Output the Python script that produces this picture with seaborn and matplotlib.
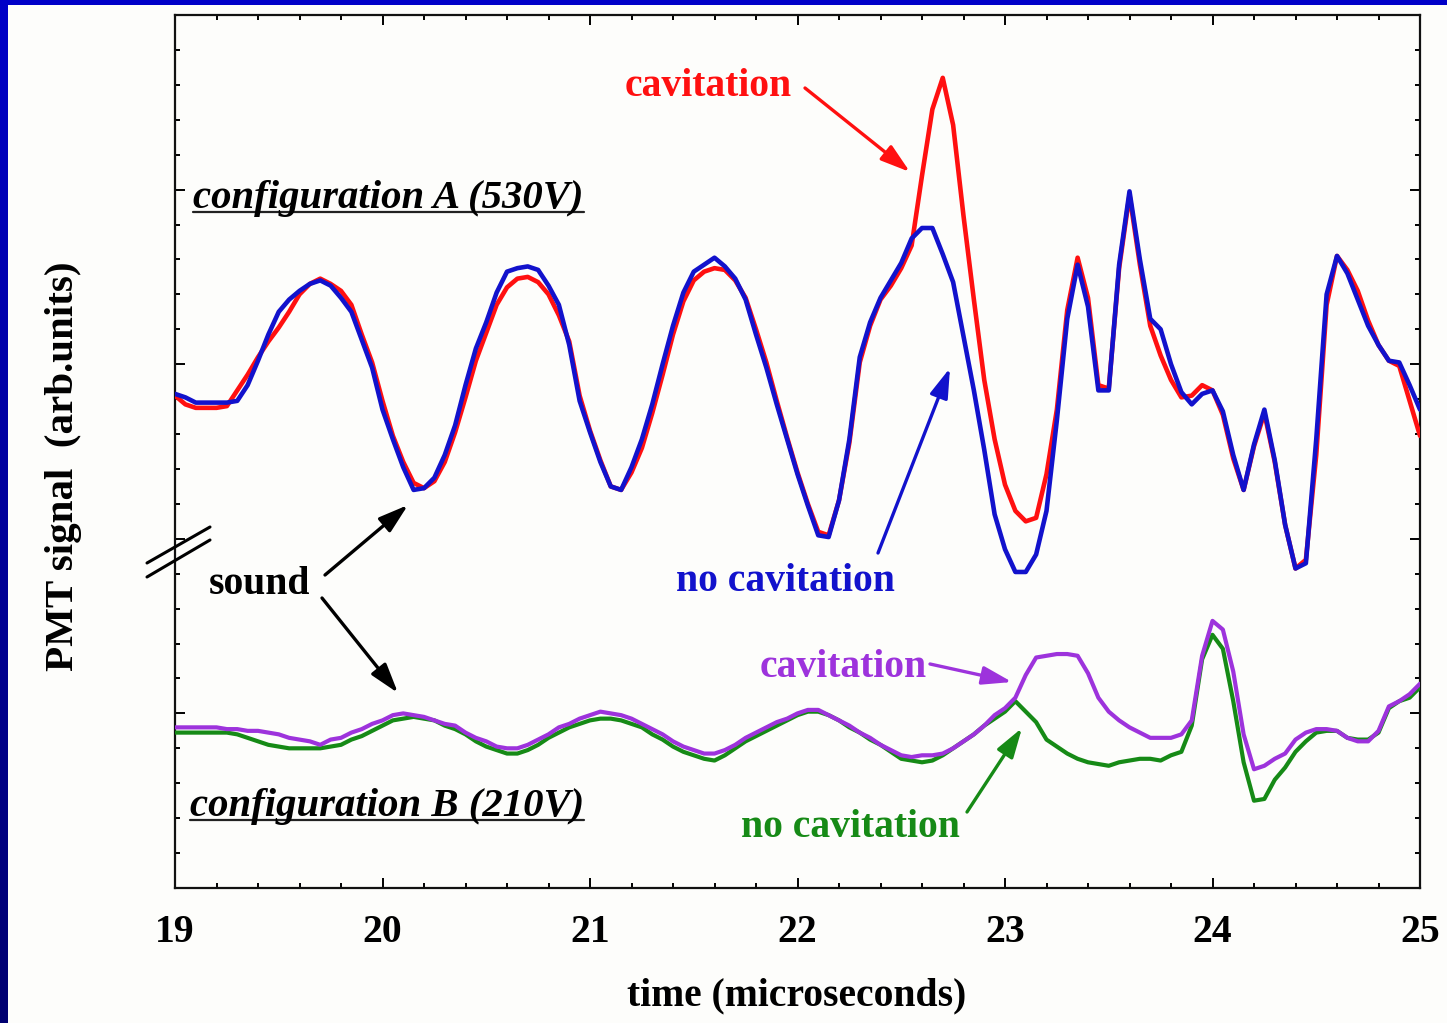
import numpy as np
import pandas as pd
import matplotlib
matplotlib.use("Agg")
import matplotlib.pyplot as plt
from matplotlib.ticker import MultipleLocator, NullFormatter
from matplotlib.lines import Line2D
from matplotlib.patches import Rectangle
from matplotlib.colors import LinearSegmentedColormap
import seaborn as sns

# ---------------------------------------------------------------- data
# PMT sample instants in microseconds (50 ns spacing)
time_us = np.round(np.linspace(19.0, 25.0, 121), 2)

# configuration A (530 V) -- arbitrary units
a_cavitation = [
    2.82, 2.77, 2.75, 2.75, 2.75, 2.76, 2.85, 2.94, 3.04, 3.13,
    3.21, 3.30, 3.40, 3.46, 3.49, 3.46, 3.42, 3.34, 3.17, 3.01,
    2.79, 2.59, 2.44, 2.32, 2.29, 2.33, 2.44, 2.61, 2.81, 3.02,
    3.18, 3.34, 3.44, 3.49, 3.50, 3.47, 3.40, 3.28, 3.13, 2.82,
    2.62, 2.45, 2.30, 2.28, 2.38, 2.52, 2.72, 2.94, 3.17, 3.36,
    3.48, 3.53, 3.55, 3.54, 3.48, 3.38, 3.20, 3.01, 2.79, 2.58,
    2.38, 2.20, 2.04, 2.02, 2.22, 2.55, 3.01, 3.22, 3.37, 3.45,
    3.55, 3.68, 4.08, 4.46, 4.64, 4.37, 3.85, 3.37, 2.91, 2.57,
    2.31, 2.16, 2.10, 2.12, 2.37, 2.74, 3.31, 3.61, 3.38, 2.88,
    2.86, 3.55, 3.97, 3.57, 3.22, 3.05, 2.91, 2.81, 2.82, 2.88,
    2.85, 2.71, 2.46, 2.28, 2.53, 2.72, 2.44, 2.08, 1.83, 1.88,
    2.48, 3.34, 3.62, 3.54, 3.42, 3.25, 3.11, 3.02, 2.99, 2.79,
    2.59,
]
a_no_cavitation = [
    2.83, 2.81, 2.78, 2.78, 2.78, 2.78, 2.79, 2.88, 3.02, 3.17,
    3.30, 3.37, 3.42, 3.46, 3.48, 3.45, 3.38, 3.30, 3.14, 2.98,
    2.74, 2.57, 2.41, 2.28, 2.29, 2.35, 2.48, 2.65, 2.88, 3.09,
    3.24, 3.41, 3.53, 3.55, 3.56, 3.54, 3.45, 3.34, 3.11, 2.79,
    2.61, 2.44, 2.30, 2.28, 2.41, 2.57, 2.77, 3.00, 3.22, 3.41,
    3.53, 3.57, 3.61, 3.56, 3.49, 3.37, 3.17, 2.98, 2.77, 2.57,
    2.37, 2.19, 2.02, 2.01, 2.22, 2.57, 3.04, 3.24, 3.38, 3.48,
    3.58, 3.72, 3.78, 3.78, 3.63, 3.47, 3.16, 2.85, 2.51, 2.14,
    1.94, 1.81, 1.81, 1.91, 2.16, 2.68, 3.26, 3.57, 3.33, 2.85,
    2.85, 3.57, 3.99, 3.60, 3.26, 3.20, 3.00, 2.84, 2.77, 2.83,
    2.85, 2.73, 2.48, 2.28, 2.54, 2.74, 2.45, 2.08, 1.83, 1.86,
    2.57, 3.40, 3.62, 3.52, 3.37, 3.22, 3.11, 3.02, 3.01, 2.88,
    2.74,
]

# configuration B (210 V) -- arbitrary units
b_cavitation = [
    0.92, 0.92, 0.92, 0.92, 0.92, 0.91, 0.91, 0.90, 0.90, 0.89,
    0.88, 0.86, 0.85, 0.84, 0.82, 0.85, 0.86, 0.89, 0.91, 0.94,
    0.96, 0.99, 1.00, 0.99, 0.98, 0.96, 0.94, 0.93, 0.89, 0.86,
    0.84, 0.81, 0.80, 0.80, 0.82, 0.85, 0.88, 0.92, 0.94, 0.97,
    0.99, 1.01, 1.00, 0.99, 0.97, 0.94, 0.91, 0.88, 0.84, 0.81,
    0.79, 0.77, 0.77, 0.79, 0.82, 0.86, 0.89, 0.92, 0.95, 0.97,
    1.00, 1.02, 1.02, 0.99, 0.96, 0.93, 0.89, 0.86, 0.82, 0.79,
    0.76, 0.75, 0.76, 0.76, 0.77, 0.80, 0.84, 0.88, 0.93, 0.99,
    1.03, 1.09, 1.22, 1.32, 1.33, 1.34, 1.34, 1.33, 1.23, 1.09,
    1.01, 0.96, 0.92, 0.89, 0.86, 0.86, 0.86, 0.88, 0.96, 1.33,
    1.53, 1.48, 1.24, 0.88, 0.68, 0.70, 0.74, 0.77, 0.85, 0.89,
    0.91, 0.91, 0.90, 0.86, 0.84, 0.84, 0.90, 1.04, 1.07, 1.11,
    1.17,
]
b_no_cavitation = [
    0.89, 0.89, 0.89, 0.89, 0.89, 0.89, 0.88, 0.86, 0.84, 0.82,
    0.81, 0.80, 0.80, 0.80, 0.80, 0.81, 0.82, 0.85, 0.87, 0.90,
    0.93, 0.96, 0.97, 0.98, 0.97, 0.96, 0.93, 0.91, 0.88, 0.84,
    0.81, 0.79, 0.77, 0.77, 0.79, 0.82, 0.86, 0.89, 0.92, 0.94,
    0.96, 0.97, 0.97, 0.96, 0.94, 0.92, 0.88, 0.85, 0.81, 0.78,
    0.76, 0.74, 0.73, 0.76, 0.80, 0.84, 0.87, 0.90, 0.93, 0.96,
    0.99, 1.01, 1.01, 0.99, 0.96, 0.92, 0.89, 0.85, 0.82, 0.78,
    0.74, 0.73, 0.72, 0.73, 0.76, 0.80, 0.84, 0.88, 0.93, 0.97,
    1.01, 1.07, 1.01, 0.95, 0.85, 0.81, 0.77, 0.74, 0.72, 0.71,
    0.70, 0.72, 0.73, 0.74, 0.74, 0.73, 0.76, 0.78, 0.93, 1.31,
    1.45, 1.37, 1.07, 0.72, 0.50, 0.51, 0.62, 0.69, 0.78, 0.84,
    0.89, 0.90, 0.90, 0.86, 0.85, 0.85, 0.89, 1.03, 1.07, 1.09,
    1.15,
]

x_ticks = [19, 20, 21, 22, 23, 24, 25]

# ---------------------------------------------------------------- style
sns.set_style("ticks")
plt.rcParams["font.family"] = ["Liberation Serif", "DejaVu Serif"]
plt.rcParams["font.weight"] = "bold"
plt.rcParams["text.color"] = "black"
plt.rcParams["xtick.color"] = "black"
plt.rcParams["ytick.color"] = "black"
plt.rcParams["xtick.labelcolor"] = "black"

W, H = 1447, 1023
fig = plt.figure(figsize=(W / 100, H / 100), dpi=100, facecolor="#fdfdfb")


def fx(px):
    return px / W


def fy(py):
    return 1 - py / H


# blue slide frame: top bar and shaded left bar
fig.add_artist(Rectangle((0, fy(5)), 1, 5 / H, transform=fig.transFigure,
                         facecolor="#0000c8", edgecolor="none", zorder=0))
bar = fig.add_axes([0, 0, fx(8), 1])
cmap = LinearSegmentedColormap.from_list("frame", ["#0000c8", "#000070"])
bar.imshow(np.linspace(0, 1, 256).reshape(-1, 1), aspect="auto", cmap=cmap)
bar.set_axis_off()

ax = fig.add_axes([fx(175), fy(888), fx(1420) - fx(175), fy(15) - fy(888)])
ax.set_facecolor("#fdfdfb")

C_RED, C_BLUE = "#ff1010", "#1212cc"
C_PURPLE, C_GREEN = "#9d33dc", "#168a16"

sns.lineplot(x=time_us, y=a_cavitation, color=C_RED, lw=3.3, ax=ax, zorder=3)
sns.lineplot(x=time_us, y=a_no_cavitation, color=C_BLUE, lw=3.3, ax=ax, zorder=4)
sns.lineplot(x=time_us, y=b_no_cavitation, color=C_GREEN, lw=3.0, ax=ax, zorder=3)
sns.lineplot(x=time_us, y=b_cavitation, color=C_PURPLE, lw=3.0, ax=ax, zorder=4)

ax.set_xlim(19, 25)
ax.set_ylim(0, 5)
ax.set_xticks(x_ticks)
ax.set_xticklabels([str(v) for v in x_ticks])
ax.xaxis.set_minor_locator(MultipleLocator(0.2))
ax.yaxis.set_major_locator(MultipleLocator(1))
ax.yaxis.set_minor_locator(MultipleLocator(0.2))
ax.yaxis.set_major_formatter(NullFormatter())
ax.tick_params(which="both", direction="in", top=True, right=True,
               color="black", width=1.4)
ax.tick_params(which="major", length=7.5, labelsize=28.5, pad=19,
               labelcolor="black")
ax.tick_params(which="minor", length=3.8)
for lab in ax.get_xticklabels():
    lab.set_fontweight("bold")
for s in ax.spines.values():
    s.set_linewidth(1.6)
    s.set_color("#111111")
    s.set_visible(True)
ax.set_xlabel("")
ax.set_ylabel("")

# axis titles
fig.text(fx(797), fy(996), "time (microseconds)", fontsize=28.5,
         fontweight="bold", ha="center", va="center", color="black")
fig.text(fx(64), fy(466), "PMT signal  (arb.units)", fontsize=29.5,
         fontweight="bold", rotation=90, ha="center", va="center",
         color="black")

# axis break mark
for y0, y1 in ((563, 527), (577, 540)):
    fig.add_artist(Line2D([fx(147), fx(210)], [fy(y0), fy(y1)],
                          transform=fig.transFigure, color="black", lw=2.2))

# configuration captions (underlined)
cfg_a = fig.text(fx(193), fy(208), "configuration A (530V)", fontsize=29.3,
                 fontweight="bold", fontstyle="italic", ha="left",
                 va="baseline", color="black")
cfg_b = fig.text(fx(190), fy(816), "configuration B (210V)", fontsize=29.3,
                 fontweight="bold", fontstyle="italic", ha="left",
                 va="baseline", color="black")

# annotations
labels = [
    ("cavitation", C_RED, (708, 96), (805, 88), (910, 172)),
    ("no cavitation", C_BLUE, (785, 591), (878, 553), (950, 368)),
    ("cavitation", C_PURPLE, (843, 677), (930, 664), (1012, 682)),
    ("no cavitation", C_GREEN, (850, 837), (967, 812), (1022, 728)),
]
arrow_style = "-|>,head_length=0.9,head_width=0.28"
for txt, col, (tx, ty), tail, tip in labels:
    fig.text(fx(tx), fy(ty), txt, color=col, fontsize=28.5,
             fontweight="bold", ha="center", va="baseline")
    ax.annotate("", xy=(fx(tip[0]), fy(tip[1])),
                xytext=(fx(tail[0]), fy(tail[1])),
                xycoords="figure fraction", textcoords="figure fraction",
                annotation_clip=False,
                arrowprops=dict(arrowstyle=arrow_style, color=col, lw=2.4,
                                shrinkA=0, shrinkB=0, mutation_scale=20))

fig.text(fx(259), fy(594), "sound", color="black", fontsize=28.5,
         fontweight="bold", ha="center", va="baseline")
for tail, tip in (((325, 575), (408, 505)), ((322, 598), (398, 693))):
    ax.annotate("", xy=(fx(tip[0]), fy(tip[1])),
                xytext=(fx(tail[0]), fy(tail[1])),
                xycoords="figure fraction", textcoords="figure fraction",
                annotation_clip=False,
                arrowprops=dict(arrowstyle=arrow_style, color="black", lw=2.4,
                                shrinkA=0, shrinkB=0, mutation_scale=20))

# underline the captions
fig.canvas.draw()
renderer = fig.canvas.get_renderer()
for t, base in ((cfg_a, 208), (cfg_b, 816)):
    bb = t.get_window_extent(renderer)
    fig.add_artist(Line2D([bb.x0 / W, bb.x1 / W], [fy(base + 4), fy(base + 4)],
                          transform=fig.transFigure, color="#222222", lw=1.6))

fig.savefig("out.png", dpi=100, facecolor=fig.get_facecolor())
